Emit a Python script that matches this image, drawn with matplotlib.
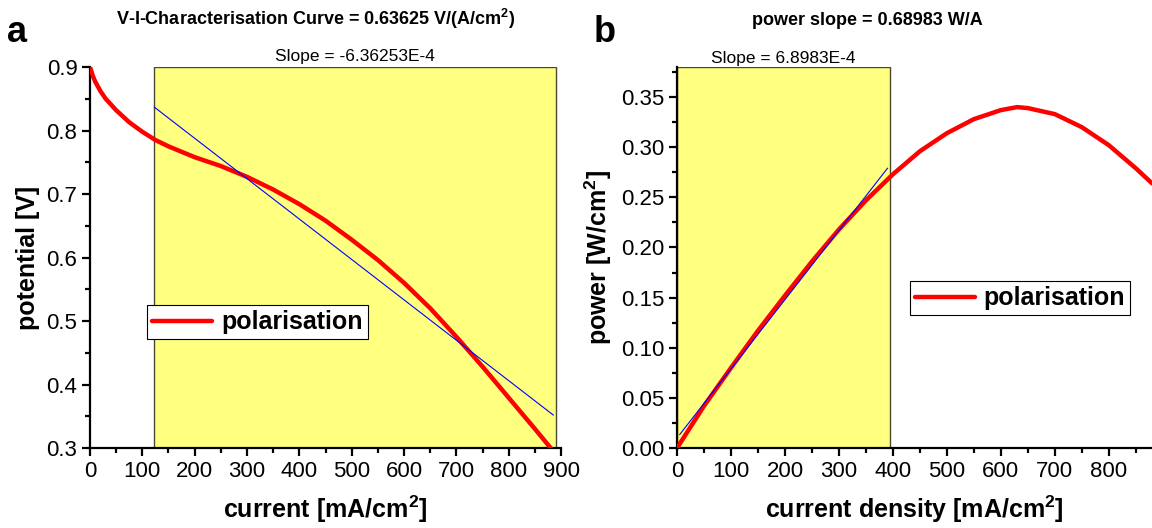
import numpy as np
import matplotlib
matplotlib.use("Agg")
import matplotlib.pyplot as plt
from matplotlib.patches import Rectangle
from matplotlib.ticker import MultipleLocator

# ---- data ----
current = [0, 2, 5, 10, 20, 30, 50, 75, 100, 125, 150, 200, 250, 300, 350,
           400, 450, 500, 550, 600, 650, 700, 750, 800, 850, 880]
potential = [0.900, 0.895, 0.887, 0.877, 0.862, 0.850, 0.832, 0.813, 0.798,
             0.785, 0.775, 0.758, 0.744, 0.727, 0.707, 0.684, 0.658, 0.628,
             0.596, 0.560, 0.520, 0.475, 0.428, 0.379, 0.330, 0.300]

density = [0, 50, 100, 150, 200, 250, 300, 350, 400, 450, 500, 550, 600,
           630, 650, 700, 750, 800, 850, 880]
power = [0.000, 0.042, 0.080, 0.117, 0.152, 0.186, 0.218, 0.247, 0.273,
         0.296, 0.314, 0.328, 0.337, 0.340, 0.339, 0.333, 0.320, 0.302,
         0.279, 0.264]

# linear fit windows (x range), slopes and intercepts
vi_fit_x = [123, 885]
vi_slope, vi_icpt = -6.36253e-4, 0.915
pw_fit_x = [5, 390]
pw_slope, pw_icpt = 6.8983e-4, 0.010
vi_window = (123, 890)
pw_window = (0, 395)

plt.rcParams['font.family'] = ['Liberation Sans', 'DejaVu Sans']
plt.rcParams['mathtext.fontset'] = 'custom'
plt.rcParams['mathtext.rm'] = 'Liberation Sans'
plt.rcParams['mathtext.bf'] = 'Liberation Sans:bold'

YELLOW = '#ffff80'
RED = '#ff0000'

fig = plt.figure(figsize=(11.52, 5.28), dpi=100)
ax_a = fig.add_axes([0.0781, 0.1515, 0.409, 0.7216])
ax_b = fig.add_axes([0.5877, 0.1515, 0.4123, 0.7216])


def style_axis(ax):
    for s in ['top', 'right']:
        ax.spines[s].set_visible(False)
    for s in ['left', 'bottom']:
        ax.spines[s].set_linewidth(1.6)
    ax.tick_params(which='major', direction='out', length=6, width=1.6,
                   labelsize=16, pad=3)
    ax.tick_params(which='minor', direction='out', length=3.5, width=1.6)


# ---- panel a ----
ax = ax_a
ax.set_xlim(0, 900)
ax.set_ylim(0.3, 0.9)
ax.add_patch(Rectangle((vi_window[0], 0.3), vi_window[1] - vi_window[0], 0.6,
                       facecolor=YELLOW, edgecolor='#4a4a30', lw=1.0, zorder=0))
ax.plot(current, potential, color=RED, lw=3.2, label='polarisation',
        solid_capstyle='round', zorder=3)
fx = np.array(vi_fit_x)
ax.plot(fx, vi_icpt + vi_slope * fx, color='#0000ff', lw=0.8, zorder=4)
ax.xaxis.set_major_locator(MultipleLocator(100))
ax.xaxis.set_minor_locator(MultipleLocator(50))
ax.yaxis.set_major_locator(MultipleLocator(0.1))
ax.yaxis.set_minor_locator(MultipleLocator(0.05))
ax.yaxis.set_major_formatter(plt.FuncFormatter(lambda v, p: f"{v:.1f}"))
style_axis(ax)
ax.set_xlabel(r'current [mA/cm$^\mathbf{2}$]', fontsize=18, fontweight='bold',
              labelpad=9)
ax.set_ylabel('potential [V]', fontsize=18, fontweight='bold', labelpad=5)
ax.text(sum(vi_window) / 2, 0.905, 'Slope = -6.36253E-4', ha='center',
        va='bottom', fontsize=12.5)
ax.set_title(r'V-I-Characterisation Curve = 0.63625 V/(A/cm$^\mathbf{2}$)',
             fontsize=13, fontweight='bold', pad=30, x=0.478)
leg = ax.legend(loc='lower left', bbox_to_anchor=(0.122, 0.285),
                prop={'weight': 'bold', 'size': 18}, fancybox=False,
                edgecolor='black', framealpha=1, handlelength=2.4,
                borderpad=0.2, handletextpad=0.35, borderaxespad=0)
leg.get_frame().set_linewidth(0.8)

# ---- panel b ----
ax = ax_b
ax.set_xlim(0, 880)
ax.set_ylim(0, 0.38)
ax.add_patch(Rectangle((pw_window[0], 0), pw_window[1] - pw_window[0], 0.38,
                       facecolor=YELLOW, edgecolor='#4a4a30', lw=1.0, zorder=0))
ax.plot(density, power, color=RED, lw=3.2, label='polarisation',
        solid_capstyle='round', zorder=3)
fx = np.array(pw_fit_x)
ax.plot(fx, pw_icpt + pw_slope * fx, color='#0000ff', lw=0.8, zorder=4)
ax.xaxis.set_major_locator(MultipleLocator(100))
ax.xaxis.set_minor_locator(MultipleLocator(50))
ax.yaxis.set_major_locator(MultipleLocator(0.05))
ax.yaxis.set_minor_locator(MultipleLocator(0.025))
ax.yaxis.set_major_formatter(plt.FuncFormatter(lambda v, p: f"{v:.2f}"))
style_axis(ax)
ax.set_xlabel(r'current density [mA/cm$^\mathbf{2}$]', fontsize=18,
              fontweight='bold', labelpad=9)
ax.set_ylabel(r'power [W/cm$^\mathbf{2}$]', fontsize=18, fontweight='bold',
              labelpad=5)
ax.text(sum(pw_window) / 2, 0.381, 'Slope = 6.8983E-4', ha='center',
        va='bottom', fontsize=12.5)
ax.set_title('power slope = 0.68983 W/A', fontsize=13, fontweight='bold',
             pad=30, x=0.40)
leg = ax.legend(loc='lower left', bbox_to_anchor=(0.49, 0.348),
                prop={'weight': 'bold', 'size': 18}, fancybox=False,
                edgecolor='black', framealpha=1, handlelength=2.4,
                borderpad=0.2, handletextpad=0.35, borderaxespad=0)
leg.get_frame().set_linewidth(0.8)

fig.text(0.006, 0.905, 'a', fontsize=26, fontweight='bold', va='bottom')
fig.text(0.515, 0.905, 'b', fontsize=26, fontweight='bold', va='bottom')

fig.savefig('out.png', dpi=100)
